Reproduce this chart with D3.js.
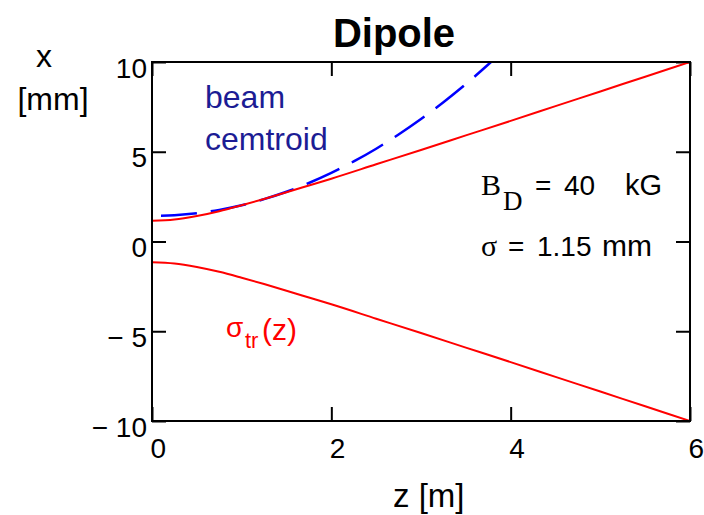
<!DOCTYPE html>
<html>
<head>
<meta charset="utf-8">
<script src="https://cdn.jsdelivr.net/npm/d3@7"></script>
<style>
  html, body { margin: 0; padding: 0; background: #fff; }
  svg { display: block; }
  text { font-family: "Liberation Sans", Arial, sans-serif; }
  .serif { font-family: "Liberation Serif", "Times New Roman", serif; }
</style>
</head>
<body>
<svg id="chart" width="704" height="515"></svg>
<script>
// Longitudinal position z [m] and the beam envelope / centroid x [mm]
const zValues = [0, 0.25, 0.5, 0.75, 1, 1.25, 1.5, 1.75, 2, 2.5, 3, 3.5, 4, 4.5, 5, 5.5, 6];
const sigmaTr = [1.15, 1.22, 1.42, 1.69, 2.02, 2.37, 2.74, 3.12, 3.5, 4.3, 5.1, 5.91, 6.72, 7.54, 8.36, 9.18, 10.0];

const zCentroid = [0, 0.25, 0.5, 0.75, 1, 1.25, 1.5, 1.75, 2, 2.25, 2.5, 2.75, 3, 3.25, 3.5, 3.75, 4];
const centroid = [1.42, 1.46, 1.57, 1.76, 2.02, 2.36, 2.77, 3.26, 3.82, 4.46, 5.17, 5.96, 6.82, 7.76, 8.77, 9.86, 11.0];

const zTicks = [0, 2, 4, 6];
const xTicks = [-10, -5, 0, 5, 10];
const xTickLabels = ["\u2212 10", "\u2212 5", "0", "5", "10"];

const svg = d3.select("#chart");
const plotL = 152, plotR = 690, plotT = 62, plotB = 421;

const x = d3.scaleLinear().domain([0, 6]).range([plotL, plotR]);
const y = d3.scaleLinear().domain([-10, 10]).range([plotB, plotT]);

// clip for the curves
svg.append("defs").append("clipPath").attr("id", "plotClip")
  .append("rect").attr("x", plotL).attr("y", plotT)
  .attr("width", plotR - plotL).attr("height", plotB - plotT);

// axes with inward ticks on all four sides
const tickLen = 14;
const styleAxis = g => {
  g.select(".domain").remove();
  g.selectAll(".tick line").attr("stroke", "#000").attr("stroke-width", 2);
};

svg.append("g").attr("transform", `translate(0,${plotB})`)
  .call(d3.axisBottom(x).tickValues(zTicks).tickSize(-tickLen).tickPadding(17).tickFormat(d3.format("d")))
  .call(styleAxis)
  .call(g => g.selectAll(".tick text")
    .attr("font-size", 28).attr("fill", "#000")
    .attr("font-family", "Liberation Sans, Arial, sans-serif")
    .attr("text-anchor", "start").attr("x", -2));

svg.append("g").attr("transform", `translate(0,${plotT})`)
  .call(d3.axisTop(x).tickValues(zTicks).tickSize(-tickLen).tickFormat(""))
  .call(styleAxis);

svg.append("g").attr("transform", `translate(${plotL},0)`)
  .call(d3.axisLeft(y).tickValues(xTicks).tickSize(-tickLen).tickPadding(5)
    .tickFormat((d, i) => xTickLabels[i]))
  .call(styleAxis)
  .call(g => g.selectAll(".tick text")
    .attr("font-size", 28).attr("fill", "#000")
    .attr("font-family", "Liberation Sans, Arial, sans-serif")
    .attr("dy", "15px"));

svg.append("g").attr("transform", `translate(${plotR},0)`)
  .call(d3.axisRight(y).tickValues(xTicks).tickSize(-tickLen).tickFormat(""))
  .call(styleAxis);

// curves
const plot = svg.append("g").attr("clip-path", "url(#plotClip)");

const centroidLine = d3.line().x(d => x(d[0])).y(d => y(d[1])).curve(d3.curveMonotoneX);
plot.append("path")
  .datum(zCentroid.map((z, i) => [z, centroid[i]]))
  .attr("d", centroidLine)
  .attr("fill", "none").attr("stroke", "#0000ff").attr("stroke-width", 2.5)
  .attr("stroke-dasharray", "36,14").attr("stroke-dashoffset", 41);

const envUpper = d3.line().x((d, i) => x(zValues[i])).y(d => y(d)).curve(d3.curveMonotoneX);
const envLower = d3.line().x((d, i) => x(zValues[i])).y(d => y(-d)).curve(d3.curveMonotoneX);
plot.append("path").datum(sigmaTr).attr("d", envUpper)
  .attr("fill", "none").attr("stroke", "#ff0000").attr("stroke-width", 2);
plot.append("path").datum(sigmaTr).attr("d", envLower)
  .attr("fill", "none").attr("stroke", "#ff0000").attr("stroke-width", 2);

// frame
svg.append("rect").attr("x", plotL).attr("y", plotT)
  .attr("width", plotR - plotL).attr("height", plotB - plotT)
  .attr("fill", "none").attr("stroke", "#000").attr("stroke-width", 2);

// title
svg.append("text").attr("x", 394).attr("y", 47)
  .attr("text-anchor", "middle").attr("font-size", 40).attr("font-weight", "bold")
  .text("Dipole");

// axis titles
svg.append("text").attr("x", 44).attr("y", 67).attr("text-anchor", "middle")
  .attr("font-size", 32).text("x");
svg.append("text").attr("x", 53).attr("y", 110).attr("text-anchor", "middle")
  .attr("font-size", 32).text("[mm]");
svg.append("text").attr("x", 393).attr("y", 507)
  .attr("font-size", 33).text("z [m]");

// curve annotations
svg.append("text").attr("x", 205).attr("y", 108).attr("font-size", 32)
  .attr("fill", "#1c1c94").text("beam");
svg.append("text").attr("x", 205).attr("y", 150).attr("font-size", 32)
  .attr("fill", "#1c1c94").text("cemtroid");

const sig = svg.append("text").attr("fill", "#ff0000");
sig.append("tspan").attr("x", 226).attr("y", 337).attr("font-size", 28).text("\u03c3");
sig.append("tspan").attr("x", 245).attr("y", 348).attr("font-size", 22).text("tr");
sig.append("tspan").attr("x", 262).attr("y", 340).attr("font-size", 30).text("(z)");

// parameter box
const bd = svg.append("g");
bd.append("text").attr("class", "serif").attr("x", 481).attr("y", 195).attr("font-size", 30).text("B");
bd.append("text").attr("class", "serif").attr("x", 503).attr("y", 210).attr("font-size", 27).text("D");
bd.append("text").attr("x", 535).attr("y", 195).attr("font-size", 28).text("=");
bd.append("text").attr("x", 564).attr("y", 195).attr("font-size", 28).text("40");
bd.append("text").attr("x", 625).attr("y", 195).attr("font-size", 29).text("kG");

const sg = svg.append("g");
sg.append("text").attr("class", "serif").attr("x", 481).attr("y", 256).attr("font-size", 30).text("\u03c3");
sg.append("text").attr("x", 508).attr("y", 256).attr("font-size", 28).text("=");
sg.append("text").attr("x", 537).attr("y", 256).attr("font-size", 28).text("1.15");
sg.append("text").attr("x", 602).attr("y", 256).attr("font-size", 30).text("mm");
</script>
</body>
</html>
